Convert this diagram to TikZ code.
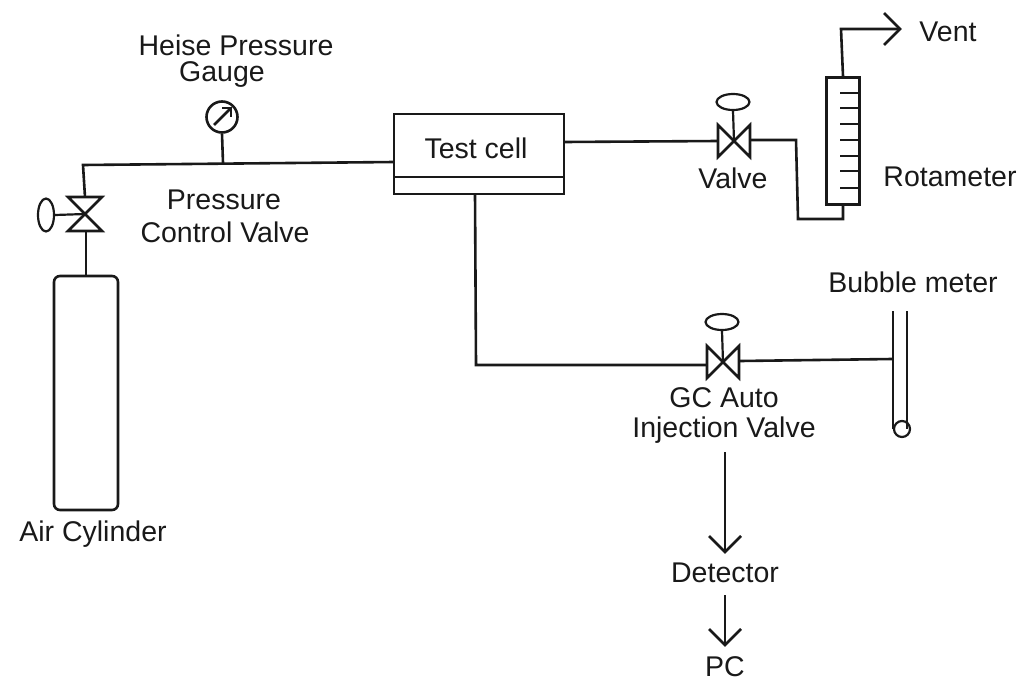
\documentclass[tikz,border=0pt]{standalone}
\usepackage{fontspec}
\usetikzlibrary{shapes.geometric}
\setmainfont{Liberation Sans}
\begin{document}
\begin{tikzpicture}[x=1pt,y=-1pt,
  pipe/.style={line width=2.6pt,line join=miter,black!90},
  thin pipe/.style={line width=2.2pt,black!90},
  label/.style={font=\fontsize{28.5}{31}\selectfont,text=black!90,inner sep=0pt,align=center},
  handle/.style={draw=black!90,line width=2.2pt,ellipse,minimum width=33pt,minimum height=16pt,inner sep=0pt},
  hvalve/.pic={\draw[pipe] (-16,-16)--(16,16)--(16,-16)--(-16,16)--cycle;},
  vvalve/.pic={\draw[pipe] (-17,-17)--(17,-17)--(-17,17)--(17,17)--cycle;},
  opentip/.pic={\draw[pipe] (-16,-16)--(0,0)--(-16,16);}
]
\useasboundingbox (0,0) rectangle (1027,680);

% nodes
\node[draw=black!90,line width=2.6pt,circle,minimum size=31pt,inner sep=0pt] (gauge) at (222,117) {};
\node[draw=black!90,line width=2.6pt,rectangle,minimum width=170pt,minimum height=80pt,inner sep=0pt] (cell) at (479,154) {};
\node[draw=black!90,line width=2.6pt,rectangle,minimum width=170pt,minimum height=17pt,inner sep=0pt] (cellbase) at (479,185.5) {};
\node[draw=black!90,line width=2.6pt,rectangle,rounded corners=6pt,minimum width=64pt,minimum height=234pt,inner sep=0pt] (cyl) at (86,393) {};
\node[draw=black!90,line width=2.6pt,rectangle,minimum width=33pt,minimum height=127pt,inner sep=0pt] (rota) at (843,141) {};
\node[draw=black!90,line width=2.2pt,circle,minimum size=16pt,inner sep=0pt] (bulb) at (902,429) {};

\node[draw=black!90,line width=2.2pt,ellipse,minimum width=16pt,minimum height=33pt,inner sep=0pt] (h1) at (46,215) {};
\node[handle] (h2) at (733,102) {};
\node[handle] (h3) at (722,322) {};

\coordinate (v1) at (85,214);
\coordinate (v2) at (734,141);
\coordinate (v3) at (723,362);
\pic at (v1) {vvalve};
\pic at (v2) {hvalve};
\pic at (v3) {hvalve};

% connectors
\coordinate (v1top) at (85,197);
\coordinate (v1bot) at (86,231);
\coordinate (corner) at (83,165);
\coordinate (tee) at (223,163);
\coordinate (cellin) at (394,162);
\draw[pipe] (v1top) -- (corner) -- (cellin);
\draw[pipe] (tee) -- (gauge.south);
\draw[pipe] (v1bot) -- (cyl.north);
\draw[thin pipe] (h1.east) -- (v1);
\draw[thin pipe] (h2.south) -- (v2);
\draw[thin pipe] (h3.south) -- (v3);

\coordinate (cellout) at (564,142);
\coordinate (v2in) at (718,141);
\draw[pipe] (cellout) -- (v2in);
\coordinate (v2out) at (750,140);
\coordinate (r1) at (796,140);
\coordinate (r2) at (798,219);
\coordinate (r3) at (843,219);
\draw[pipe] (v2out) -- (r1) -- (r2) -- (r3) -- (rota.south);
\coordinate (ventc) at (841,29);
\coordinate (venttip) at (900,29);
\draw[pipe] (rota.north) -- (ventc) -- (venttip);
\pic at (venttip) {opentip};
\foreach \y in {93,108,124,140,156,171,188}
  \draw[pipe] (840,\y) -- (859,\y);

\coordinate (cellbot) at (475,194);
\coordinate (lc) at (476,365);
\coordinate (v3in) at (707,365);
\draw[pipe] (cellbot) -- (lc) -- (v3in);
\coordinate (v3out) at (740,361);
\coordinate (bt) at (892,359);
\draw[pipe] (v3out) -- (bt);
\coordinate (bl) at (893,311);
\coordinate (br) at (907,311);
\draw[pipe] (bl) -- (bl |- bulb);
\draw[pipe] (br) -- (br |- bulb);

% gauge needle
\draw[pipe] (gauge.center) +(-8,8) -- +(8,-8);
\draw[line width=2pt,black!90] (gauge.center) +(0,-9) -- +(9,-9) -- +(9,0);

% output arrows
\node[label] (det) at (725,573) {Detector};
\node[label] (pc) at (725,667) {PC};
\coordinate (injout) at (725,452);
\coordinate (arr1) at (725,552);
\coordinate (detout) at (725,595);
\coordinate (arr2) at (725,645);
\draw[pipe] (injout) -- (arr1);
\pic[rotate=-90] at (arr1) {opentip};
\draw[pipe] (detout) -- (arr2);
\pic[rotate=-90] at (arr2) {opentip};

% labels
\node[label] at (236,45) {Heise Pressure};
\node[label] at (222,75) {Gauge};
\node[label] at (224,200) {Pressure};
\node[label] at (225,232) {Control Valve};
\node[label] at (476,148) {Test cell};
\node[label] at (733,178) {Valve};
\node[label] at (948,32) {Vent};
\node[label] at (950,177) {Rotameter};
\node[label] at (913,282) {Bubble meter};
\node[label] at (724,398) {GC Auto};
\node[label] at (724,430) {Injection Valve};
\node[label] at (93,534) {Air Cylinder};
\end{tikzpicture}
\end{document}
